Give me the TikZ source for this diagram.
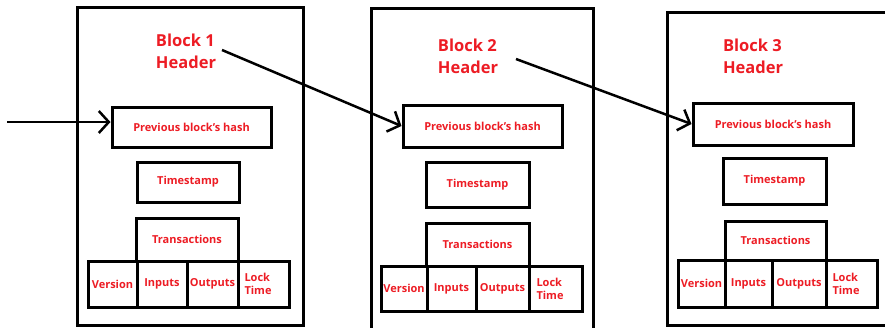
\documentclass[tikz,border=0pt]{standalone}
\usepackage{fontspec}
\setmainfont{Open Sans}
\usepackage{xcolor}
\usetikzlibrary{arrows.meta}
\definecolor{paintred}{RGB}{237,28,36}
\tikzset{
	frame/.style={draw, line width=3pt, inner sep=0pt},
	field/.style={draw, line width=3pt, inner sep=0pt, text=paintred,
			font=\fontsize{11}{13}\selectfont\bfseries, align=center},
	locktime/.style={field, align=left, text width=38pt},
	headtext/.style={text=paintred, font=\fontsize{16.5}{22}\selectfont\bfseries, align=left},
	link/.style={line width=2.5pt, -{Straight Barb[length=10pt,width=22pt,line width=2.5pt]}}
}

\begin{document}
\begin{tikzpicture}[x=1pt, y=-1pt]
		\useasboundingbox (0,0) rectangle (885,327);
		\clip (0,0) rectangle (885,327);
		\fill [white] (0,0) rectangle (885,327);

		% block 1
		\node [frame, minimum width=226pt, minimum height=318pt] (block1) at (190,166) {};
		\node [headtext] (head1) at (186,51) {Block 1\\Header};
		\node [field, minimum width=159pt, minimum height=40pt] (prev1) at (191.5,127) {Previous block's hash};
		\node [field, minimum width=102pt, minimum height=40pt] (time1) at (188,182) {Timestamp};
		\node [field, minimum width=102pt, minimum height=43pt] (trans1) at (187,239.5) {Transactions};
		\node [field, minimum width=49pt, minimum height=46pt] (ver1) at (112.5,284) {Version};
		\node [field, minimum width=50pt, minimum height=46pt] (in1) at (162,284) {Inputs};
		\node [field, minimum width=51pt, minimum height=46pt] (out1) at (212.5,284) {Outputs};
		\node [locktime, minimum width=51pt, minimum height=46pt] (lock1) at (263.5,284) {Lock\\Time};

		% block 2
		\node [frame, minimum width=222pt, minimum height=340pt] (block2) at (482,178) {};
		\node [headtext] (head2) at (468,56) {Block 2\\Header};
		\node [field, minimum width=159pt, minimum height=42pt] (prev2) at (482.5,126) {Previous block's hash};
		\node [field, minimum width=103pt, minimum height=45pt] (time2) at (477.5,184.5) {Timestamp};
		\node [field, minimum width=103pt, minimum height=43pt] (trans2) at (477.5,244.5) {Transactions};
		\node [field, minimum width=46pt, minimum height=45pt] (ver2) at (404,288.5) {Version};
		\node [field, minimum width=49pt, minimum height=45pt] (in2) at (451.5,288.5) {Inputs};
		\node [field, minimum width=53pt, minimum height=45pt] (out2) at (502.5,288.5) {Outputs};
		\node [locktime, minimum width=53pt, minimum height=45pt] (lock2) at (555.5,288.5) {Lock\\Time};

		% block 3
		\node [frame, minimum width=250pt, minimum height=313pt] (block3) at (792,168.5) {};
		\node [headtext] (head3) at (753,56) {Block 3\\Header};
		\node [field, minimum width=160pt, minimum height=42pt] (prev3) at (773,124) {Previous block's hash};
		\node [field, minimum width=103pt, minimum height=46pt] (time3) at (774.5,181) {Timestamp};
		\node [field, minimum width=101pt, minimum height=39pt] (trans3) at (775.5,240.5) {Transactions};
		\node [field, minimum width=47pt, minimum height=47pt] (ver3) at (701.5,283.5) {Version};
		\node [field, minimum width=47pt, minimum height=47pt] (in3) at (748.5,283.5) {Inputs};
		\node [field, minimum width=54pt, minimum height=47pt] (out3) at (799,283.5) {Outputs};
		\node [locktime, minimum width=51pt, minimum height=47pt] (lock3) at (851.5,283.5) {Lock\\Time};

		% links
		\coordinate (start0) at (7,122);
		\coordinate (start1) at (222,50);
		\coordinate (start2) at (516,59);
		\draw [link] (start0) to (prev1.west |- start0);
		\draw [link] (start1) to (prev2.west);
		\draw [link] (start2) to (prev3.west);
	\end{tikzpicture}
\end{document}
